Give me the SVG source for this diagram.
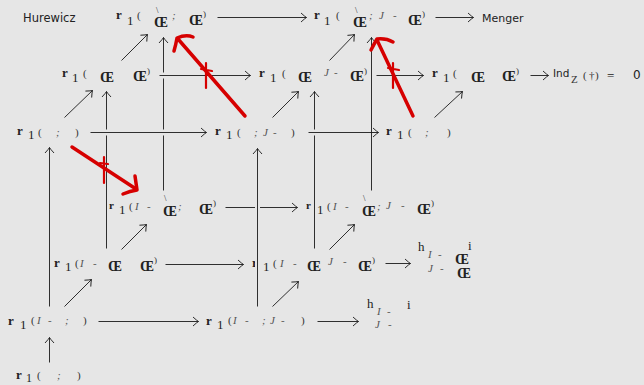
<svg xmlns="http://www.w3.org/2000/svg" width="644" height="385" viewBox="0 0 644 385">
<defs>
<style>
text{font-family:"Liberation Serif",serif;fill:#222}
.r{font-weight:bold;font-size:13px}
.rs{font-weight:bold;font-size:11px}
.n{font-size:13px}
.p{font-size:11px;fill:#333}
.ps{font-size:9px;fill:#333}
.o{font-weight:bold;font-size:14px}
.v{font-style:italic;font-size:11px;fill:#555}
.bs{font-size:9px;fill:#333}
.h{font-size:13px}
.s{font-family:"DejaVu Sans",sans-serif;font-size:11px}
.ln{fill:none;stroke:#1a1a1a;stroke-width:0.9}
.halo{fill:none;stroke:#e6e6e6;stroke-width:6}
.red{fill:none;stroke:#d60000;stroke-width:3.5;stroke-linecap:round;stroke-linejoin:round}
.tick{fill:none;stroke:#d60000;stroke-width:2.2;stroke-linecap:round}
</style>
<marker id="ah" viewBox="-7 -6 8 12" refX="0" refY="0" markerWidth="8" markerHeight="12" orient="auto" markerUnits="userSpaceOnUse">
<path d="M-5.5,-4.5 Q-1.5,-0.8 0,0 Q-1.5,0.8 -5.5,4.5" fill="none" stroke="#1a1a1a" stroke-width="0.9"/>
</marker>
</defs>
<rect width="644" height="385" fill="#e6e6e6"/>

<g id="labels">
<text class="s" x="23" y="22" style="font-size:11.5px">Hurewicz</text>
<text class="s" x="482" y="22">Menger</text>
<g id="ind">
<text class="s" x="553" y="77" style="font-size:10.5px">Ind</text>
<text class="p" x="571" y="83">Z</text>
<text class="p" x="583" y="79">(</text>
<text class="p" x="589" y="79">†</text>
<text class="p" x="595" y="79">)</text>
<text class="n" x="607" y="80">=</text>
<text class="s" x="633" y="79" style="font-size:12px">0</text>
</g>
</g>

<g id="nA">
<text class="r" x="116" y="19">r</text><text class="n" x="127" y="25">1</text><text class="p" x="137" y="19">(</text>
<text class="bs" x="156" y="13">\</text><text class="o" x="154" y="27">Œ</text><text class="v" x="172" y="19">;</text>
<text class="o" x="189" y="25">Œ</text><text class="ps" x="203" y="17">)</text>
</g>
<g id="nB">
<text class="r" x="314" y="19">r</text><text class="n" x="324" y="25">1</text><text class="p" x="336" y="19">(</text>
<text class="bs" x="355" y="13">\</text><text class="o" x="353" y="27">Œ</text><text class="v" x="369" y="19">;</text>
<text class="v" x="379" y="19">J</text><text class="v" x="393" y="19">-</text>
<text class="o" x="408" y="25">Œ</text><text class="ps" x="422" y="17">)</text>
</g>
<g id="nC">
<text class="r" x="62" y="77">r</text><text class="n" x="72" y="82">1</text><text class="p" x="83" y="77">(</text>
<text class="o" x="100" y="82">Œ</text><text class="o" x="133" y="81">Œ</text><text class="ps" x="147" y="74">)</text>
</g>
<g id="nD">
<text class="r" x="259" y="77">r</text><text class="n" x="270" y="82">1</text><text class="p" x="282" y="77">(</text>
<text class="o" x="298" y="82">Œ</text><text class="v" x="324" y="76">J</text><text class="v" x="334" y="76">-</text>
<text class="o" x="350" y="81">Œ</text><text class="ps" x="364" y="74">)</text>
</g>
<g id="nE">
<text class="r" x="432" y="77">r</text><text class="n" x="443" y="82">1</text><text class="p" x="453" y="77">(</text>
<text class="o" x="471" y="82">Œ</text><text class="o" x="502" y="81">Œ</text><text class="ps" x="516" y="74">)</text>
</g>
<g id="nF">
<text class="r" x="17" y="135">r</text><text class="n" x="28" y="139">1</text><text class="p" x="38" y="136">(</text>
<text class="v" x="56" y="136">;</text><text class="p" x="75" y="136">)</text>
</g>
<g id="nG">
<text class="r" x="215" y="135">r</text><text class="n" x="226" y="139">1</text><text class="p" x="237" y="136">(</text>
<text class="v" x="254" y="136">;</text><text class="v" x="263" y="136">J</text><text class="v" x="273" y="136">-</text><text class="p" x="291" y="136">)</text>
</g>
<g id="nH">
<text class="r" x="386" y="135">r</text><text class="n" x="397" y="139">1</text><text class="p" x="408" y="136">(</text>
<text class="v" x="425" y="136">;</text><text class="p" x="447" y="136">)</text>
</g>
<g id="nI">
<text class="rs" x="109" y="209">r</text><text class="n" x="119" y="214">1</text><text class="p" x="129" y="210">(</text>
<text class="v" x="135" y="210">I</text><text class="v" x="147" y="210">-</text>
<text class="bs" x="164" y="201">\</text><text class="o" x="163" y="216">Œ</text><text class="v" x="178" y="210">;</text>
<text class="o" x="199" y="214">Œ</text><text class="ps" x="213" y="206">)</text>
</g>
<g id="nJ">
<text class="rs" x="306" y="209">r</text><text class="n" x="317" y="214">1</text><text class="p" x="327" y="210">(</text>
<text class="v" x="333" y="210">I</text><text class="v" x="345" y="210">-</text>
<text class="bs" x="363" y="201">\</text><text class="o" x="362" y="216">Œ</text><text class="v" x="377" y="210">;</text>
<text class="v" x="386" y="209">J</text><text class="v" x="401" y="209">-</text>
<text class="o" x="417" y="214">Œ</text><text class="ps" x="431" y="206">)</text>
</g>
<g id="nK">
<text class="r" x="54" y="267">r</text><text class="n" x="65" y="271">1</text><text class="p" x="75" y="267">(</text>
<text class="v" x="80" y="267">I</text><text class="v" x="93" y="267">-</text>
<text class="o" x="108" y="271">Œ</text><text class="o" x="140" y="271">Œ</text><text class="ps" x="154" y="263">)</text>
</g>
<g id="nL">
<text class="r" x="252" y="267">r</text><text class="n" x="263" y="271">1</text><text class="p" x="273" y="267">(</text>
<text class="v" x="280" y="267">I</text><text class="v" x="293" y="267">-</text>
<text class="o" x="307" y="271">Œ</text><text class="v" x="328" y="265">J</text><text class="v" x="343" y="265">-</text>
<text class="o" x="358" y="271">Œ</text><text class="ps" x="372" y="263">)</text>
</g>
<g id="nM">
<text class="h" x="418" y="251">h</text><text class="v" x="428" y="258">I</text><text class="v" x="438" y="258">-</text>
<text class="o" x="455" y="264">Œ</text><text class="h" x="468" y="250">i</text>
<text class="v" x="428" y="272">J</text><text class="v" x="440" y="272">-</text><text class="o" x="457" y="278">Œ</text>
</g>
<g id="nN">
<text class="r" x="8" y="325">r</text><text class="n" x="20" y="329">1</text><text class="p" x="31" y="324">(</text>
<text class="v" x="37" y="324">I</text><text class="v" x="48" y="324">-</text>
<text class="v" x="65" y="324">;</text><text class="p" x="83" y="324">)</text>
</g>
<g id="nO">
<text class="r" x="206" y="325">r</text><text class="n" x="217" y="329">1</text><text class="p" x="228" y="324">(</text>
<text class="v" x="233" y="324">I</text><text class="v" x="245" y="324">-</text>
<text class="v" x="262" y="324">;</text><text class="v" x="270" y="324">J</text><text class="v" x="281" y="324">-</text><text class="p" x="301" y="324">)</text>
</g>
<g id="nP">
<text class="h" x="367" y="308">h</text><text class="v" x="377" y="315">I</text><text class="v" x="387" y="315">-</text>
<text class="h" x="407" y="309">i</text>
<text class="v" x="375" y="328">J</text><text class="v" x="388" y="328">-</text>
</g>
<g id="nQ">
<text class="r" x="16" y="379">r</text><text class="n" x="26" y="382" style="font-size:12px">1</text><text class="p" x="37" y="379">(</text>
<text class="v" x="57" y="379">;</text><text class="p" x="77" y="379">)</text>
</g>

<g id="connectors" transform="translate(0.5,0.5)">
<line class="ln" x1="49" y1="306" x2="49" y2="147" marker-end="url(#ah)"/>
<line class="ln" x1="49" y1="362" x2="49" y2="337" marker-end="url(#ah)"/>
<line class="ln" x1="106" y1="248" x2="106" y2="91" marker-end="url(#ah)"/>
<line class="ln" x1="163" y1="190" x2="163" y2="37" marker-end="url(#ah)"/>
<line class="ln" x1="371" y1="190" x2="371" y2="37" marker-end="url(#ah)"/>
<line class="halo" x1="314" y1="246" x2="314" y2="95" style="stroke-width:4"/>
<line class="ln" x1="314" y1="248" x2="314" y2="91" marker-end="url(#ah)"/>
<line class="ln" x1="225" y1="207" x2="297" y2="207" marker-end="url(#ah)"/>
<line class="halo" x1="257" y1="303" x2="257" y2="152" style="stroke-width:5"/>
<line class="ln" x1="257" y1="306" x2="257" y2="148" marker-end="url(#ah)"/>
<line class="halo" x1="161" y1="75" x2="245" y2="75"/>
<line class="ln" x1="159" y1="75" x2="250" y2="75" marker-end="url(#ah)"/>
<line class="halo" x1="92" y1="132" x2="200" y2="132"/>
<line class="ln" x1="90" y1="132" x2="206" y2="132" marker-end="url(#ah)"/>
<line class="halo" x1="310" y1="132" x2="368" y2="132"/>
<line class="ln" x1="308" y1="132" x2="378" y2="132" marker-end="url(#ah)"/>
<line class="ln" x1="217" y1="17" x2="306" y2="17" marker-end="url(#ah)"/>
<line class="ln" x1="435" y1="17" x2="473" y2="17" marker-end="url(#ah)"/>
<line class="ln" x1="376" y1="75" x2="423" y2="75" marker-end="url(#ah)"/>
<line class="ln" x1="530" y1="75" x2="548" y2="75" marker-end="url(#ah)"/>
<line class="ln" x1="165" y1="264" x2="243" y2="264" marker-end="url(#ah)"/>
<line class="ln" x1="385" y1="263" x2="410" y2="263" marker-end="url(#ah)"/>
<line class="ln" x1="98" y1="321" x2="198" y2="321" marker-end="url(#ah)"/>
<line class="ln" x1="317" y1="321" x2="358" y2="321" marker-end="url(#ah)"/>
<line class="ln" x1="64" y1="306" x2="91" y2="279" marker-end="url(#ah)"/>
<line class="ln" x1="121" y1="249" x2="146" y2="224" marker-end="url(#ah)"/>
<line class="ln" x1="272" y1="306" x2="298" y2="281" marker-end="url(#ah)"/>
<line class="ln" x1="329" y1="249" x2="354" y2="224" marker-end="url(#ah)"/>
<line class="ln" x1="64" y1="117" x2="92" y2="90" marker-end="url(#ah)"/>
<line class="ln" x1="121" y1="60" x2="147" y2="34" marker-end="url(#ah)"/>
<line class="ln" x1="272" y1="117" x2="298" y2="91" marker-end="url(#ah)"/>
<line class="ln" x1="329" y1="60" x2="354" y2="34" marker-end="url(#ah)"/>
<line class="ln" x1="434" y1="117" x2="462" y2="91" marker-end="url(#ah)"/>
</g>

<g id="annotations">
<path class="red" d="M245,116 L178,39"/>
<path class="red" d="M174,51 Q176,44 177,38 Q186,34 193,37"/>
<path class="tick" d="M206,63 L206,88 M201,69 L212,71"/>
<path class="red" d="M413,116 L377,40"/>
<path class="red" d="M371,50 Q374,44 377,39 Q386,38 393,42"/>
<path class="tick" d="M393,63 L393,88 M388,68 L399,70"/>
<path class="red" d="M72,147 L136,189"/>
<path class="red" d="M123,194 Q130,191 137,190 Q136,183 135,176"/>
<path class="tick" d="M104,157 L104,183 M100,163 L108,164"/>
</g>
</svg>
